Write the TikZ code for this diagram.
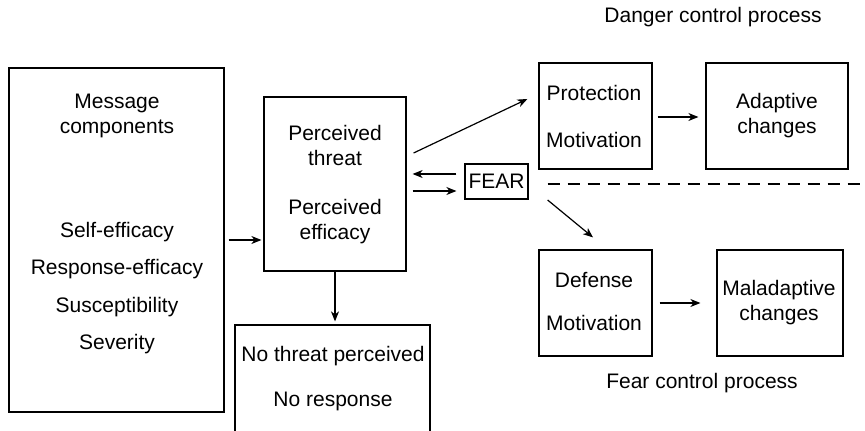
\documentclass[tikz,border=0pt]{standalone}
\usepackage{fontspec}
\setmainfont{Liberation Sans}
\usetikzlibrary{arrows.meta}

\newcommand{\txtfont}{\fontsize{10.5}{12.5}\selectfont}
\tikzset{
  box/.style={draw,line width=0.6pt,inner sep=0pt},
  lbl/.style={align=center,inner sep=0pt,font=\txtfont},
  arr/.style={line width=0.6pt,-{Stealth[length=5pt,width=4pt,inset=1.5pt]}}
}

\begin{document}
\begin{tikzpicture}[x=0.5pt,y=-0.5pt]
                \useasboundingbox (0,0) rectangle (865,431);
                \clip (0,0) rectangle (865,431);
                % boxes
                \node[box,minimum width=107.5pt,minimum height=172pt] (msgbox) at (116.5,240) {};
                \node[box,minimum width=71pt,minimum height=87pt] (percbox) at (335,184) {};
                \node[box,minimum width=97.5pt,minimum height=67.5pt] (nobox) at (332.5,392.5) {};
                \node[box,minimum width=56.5pt,minimum height=53pt] (protbox) at (595.5,116) {};
                \node[box,minimum width=71pt,minimum height=53pt] (adaptbox) at (777,116) {};
                \node[box,minimum width=56.5pt,minimum height=53pt] (defbox) at (595.5,303) {};
                \node[box,minimum width=63pt,minimum height=53pt] (maladbox) at (780,303) {};
                \node[box,lbl,minimum width=31.5pt,minimum height=17.5pt] (fear) at (496.5,181.5) {FEAR};
                % texts
                \node[lbl] (msgtop) at (117,115.5) {Message\\components};
                \node[lbl] (msgcues) at (117,288) {Self-efficacy\\[6.25pt]Response-efficacy\\[6.25pt]Susceptibility\\[6.25pt]Severity};
                \node[lbl] (perca) at (335,145.5) {Perceived\\threat};
                \node[lbl] (percb) at (335,222) {Perceived\\efficacy};
                \node[lbl] (notxt) at (333,378.5) {No threat perceived\\[10pt]No response};
                \node[lbl] (prottxt) at (594,116.5) {Protection\\[11pt]Motivation};
                \node[lbl] (adapttxt) at (777,115.5) {Adaptive\\changes};
                \node[lbl] (deftxt) at (594,301.5) {Defense\\[9pt]Motivation};
                \node[lbl] (maladtxt) at (779,302.5) {Maladaptive\\changes};
                \node[lbl] (danger) at (713,17) {Danger control process};
                \node[lbl] (fearctl) at (702,383) {Fear control process};
                % arrows
                \draw[arr] ([shift={(4,0)}]msgbox.east) -- ([shift={(-2,56)}]percbox.west);
                \draw[arr] (percbox.south) -- ([shift={(0,-3)}]percbox.south |- nobox.north);
                \draw[arr] ([shift={(7,-31)}]percbox.east) -- ([shift={(-11,-17)}]protbox.west);
                \draw[arr] ([shift={(-8,-7.5)}]fear.west) -- ([shift={(6,-10)}]percbox.east);
                \draw[arr] ([shift={(6,7)}]percbox.east) -- ([shift={(-8,9.5)}]fear.west);
                \draw[arr] ([shift={(19,18.5)}]fear.east) -- ([shift={(-2.5,-12)}]defbox.north);
                \draw[arr] ([shift={(5,1)}]protbox.east) -- ([shift={(-7,1)}]adaptbox.west);
                \draw[arr] ([shift={(7,0)}]defbox.east) -- ([shift={(-16,0)}]maladbox.west);
                % dashed divider
                \coordinate (dashend) at (870,184);
                \draw[line width=0.6pt,dash pattern=on 6pt off 4pt] ([shift={(19,2.5)}]fear.east) -- (dashend);
            \end{tikzpicture}
\end{document}
